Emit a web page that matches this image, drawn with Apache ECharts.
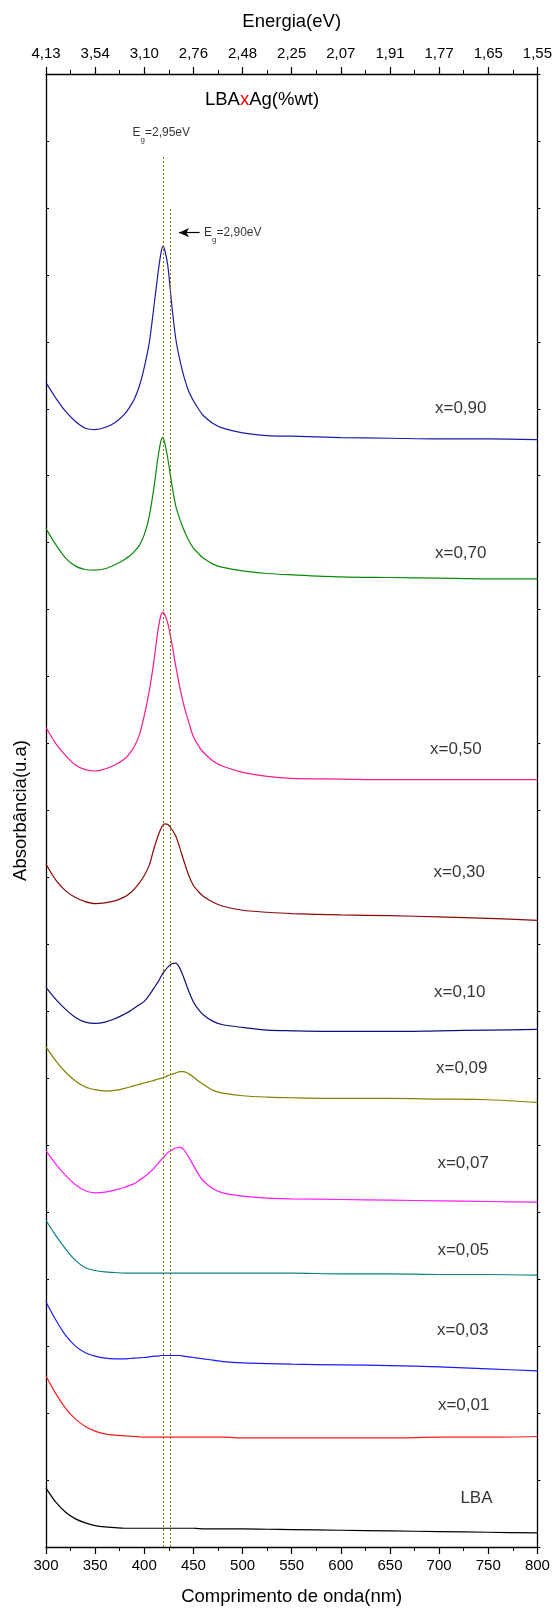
<!DOCTYPE html>
<html><head><meta charset="utf-8">
<script src="https://cdn.jsdelivr.net/npm/echarts@6/dist/echarts.min.js"></script>
<style>html,body{margin:0;padding:0;background:#fff}#c{width:555px;height:1611px}</style>
</head><body><div id="c"></div>
<script>
const wavelengths = [300,310,320,330,340,350,360,370,380,385,390,395,400,405,410,414,417,419,421,424,428,432,436,440,445,450,455,460,470,480,500,525,550,600,650,700,750,800];
const energyLabels = ['4,13','3,54','3,10','2,76','2,48','2,25','2,07','1,91','1,77','1,65','1,55'];
const names = ['x=0,90','x=0,70','x=0,50','x=0,30','x=0,10','x=0,09','x=0,07','x=0,05','x=0,03','x=0,01','LBA'];
const colors = ['#1c1ca4','#0a8a0a','#ff1a8c','#8a0a0a','#10107e','#828200','#ff1aff','#0a8282','#1a1aff','#ff1a1a','#000000'];
const abs090 = [17.39,17.16,16.96,16.81,16.71,16.69,16.72,16.79,16.92,17.02,17.15,17.34,17.62,17.98,18.55,19.03,19.33,19.43,19.36,19.13,18.55,18.05,17.74,17.50,17.27,17.12,17.00,16.90,16.78,16.71,16.64,16.60,16.59,16.57,16.56,16.55,16.55,16.54];
const abs070 = [15.21,14.97,14.77,14.65,14.60,14.59,14.61,14.67,14.75,14.80,14.87,14.96,15.12,15.39,15.84,16.28,16.52,16.57,16.48,16.25,15.87,15.55,15.36,15.20,15.04,14.92,14.84,14.77,14.68,14.63,14.58,14.54,14.52,14.49,14.48,14.47,14.46,14.46];
const abs050 = [12.24,12.00,11.82,11.68,11.61,11.59,11.62,11.68,11.77,11.85,11.96,12.13,12.42,12.78,13.25,13.70,13.92,13.96,13.92,13.79,13.50,13.16,12.85,12.59,12.33,12.10,11.97,11.87,11.74,11.66,11.57,11.51,11.48,11.47,11.46,11.46,11.46,11.46];
const abs030 = [10.20,9.96,9.80,9.70,9.64,9.61,9.62,9.65,9.71,9.76,9.83,9.92,10.03,10.18,10.44,10.62,10.73,10.78,10.80,10.79,10.72,10.62,10.45,10.26,10.04,9.88,9.79,9.72,9.63,9.57,9.51,9.48,9.46,9.44,9.43,9.41,9.39,9.36];
const abs010 = [8.36,8.18,8.03,7.91,7.84,7.82,7.84,7.89,7.96,8.00,8.05,8.10,8.15,8.24,8.35,8.44,8.52,8.57,8.61,8.66,8.71,8.72,8.65,8.51,8.31,8.14,8.03,7.95,7.85,7.80,7.76,7.72,7.71,7.70,7.70,7.71,7.72,7.73];
const abs009 = [7.47,7.26,7.09,6.96,6.87,6.83,6.81,6.82,6.85,6.87,6.89,6.91,6.93,6.95,6.97,6.99,7.00,7.01,7.02,7.04,7.06,7.08,7.10,7.10,7.07,7.02,6.96,6.91,6.82,6.78,6.74,6.72,6.71,6.70,6.70,6.69,6.68,6.64];
const abs007 = [5.92,5.72,5.55,5.41,5.32,5.29,5.30,5.33,5.37,5.40,5.43,5.48,5.53,5.59,5.66,5.73,5.78,5.81,5.84,5.89,5.93,5.96,5.97,5.94,5.83,5.70,5.57,5.47,5.35,5.29,5.24,5.21,5.20,5.19,5.18,5.17,5.16,5.15];
const abs005 = [4.88,4.65,4.45,4.28,4.17,4.13,4.11,4.10,4.09,4.09,4.09,4.09,4.09,4.09,4.09,4.09,4.09,4.09,4.09,4.09,4.09,4.09,4.09,4.09,4.09,4.09,4.09,4.09,4.09,4.09,4.09,4.09,4.09,4.08,4.08,4.07,4.07,4.06];
const abs003 = [3.66,3.39,3.16,3.00,2.90,2.85,2.82,2.81,2.81,2.815,2.82,2.825,2.83,2.84,2.85,2.85,2.86,2.86,2.86,2.86,2.86,2.86,2.86,2.85,2.84,2.83,2.82,2.81,2.79,2.77,2.75,2.74,2.73,2.72,2.71,2.69,2.66,2.63];
const abs001 = [2.55,2.29,2.07,1.91,1.80,1.73,1.69,1.67,1.66,1.655,1.65,1.645,1.64,1.64,1.64,1.64,1.64,1.64,1.64,1.64,1.64,1.64,1.64,1.64,1.64,1.64,1.64,1.64,1.64,1.64,1.63,1.63,1.63,1.63,1.63,1.64,1.64,1.65];
const absLBA = [0.88,0.67,0.52,0.42,0.36,0.32,0.30,0.29,0.28,0.28,0.28,0.28,0.28,0.28,0.28,0.28,0.28,0.28,0.28,0.28,0.28,0.28,0.28,0.28,0.28,0.28,0.275,0.27,0.27,0.27,0.27,0.265,0.26,0.25,0.24,0.23,0.22,0.21];
const allAbs = [abs090,abs070,abs050,abs030,abs010,abs009,abs007,abs005,abs003,abs001,absLBA];
// label anchors (wavelength, absorbance)
const labelWl = [722,722,717,720.5,721,723,724.5,724.5,724,725,738];
const labelAbs = [17.0,14.84,11.92,10.07,8.29,7.15,5.73,4.43,3.24,2.12,0.73];
// Eg reference lines
const egWl = [419,426];
const egTop = [20.78,20.0];
const egText = ['{e|E}{s|g}{e|=2,95eV}','{e|E}{s|g}{e|=2,90eV}'];
const egTextPos = [[417.3,21.12],[490,19.63]];
const arrowFrom = [456.3,19.63], arrowTo = [435.3,19.63];

const FF = '"Liberation Sans", Arial, sans-serif';
const chart = echarts.init(document.getElementById('c'), null, {renderer:'canvas'});
const axisCommon = {
  type:'value', min:300, max:800, interval:50,
  axisLine:{onZero:false, lineStyle:{color:'#000', width:1.3}},
  axisTick:{length:7, lineStyle:{color:'#000', width:1.2}},
  minorTick:{show:true, splitNumber:2, length:4, lineStyle:{color:'#000', width:1}},
  splitLine:{show:false}, minorSplitLine:{show:false},
  nameLocation:'middle', nameTextStyle:{fontSize:18.5, color:'#000', fontFamily:FF}
};
const yCommon = {
  type:'value', min:0, max:22, interval:1,
  axisLine:{show:true, onZero:false, lineStyle:{color:'#000', width:1.3}},
  axisTick:{show:true, inside:true, length:3, lineStyle:{color:'#000', width:1}},
  axisLabel:{show:false}, splitLine:{show:false}
};
const series = names.map((n,i)=>({
  name:n, type:'line', data: wavelengths.map((w,j)=>[w, allAbs[i][j]]),
  showSymbol:false, smooth:0.3,
  lineStyle:{color:colors[i], width:1.2}, itemStyle:{color:colors[i]}, z:3
}));
series[10].markLine = {
  silent:true, symbol:'none', animation:false, label:{show:false},
  lineStyle:{type:[2,2], color:'#7d7400', width:1},
  data: egWl.map((w,i)=>[{coord:[w,0]},{coord:[w,egTop[i]]}])
};
series.push({
  type:'scatter', data: names.map((n,i)=>[labelWl[i], labelAbs[i], n]),
  symbolSize:1, itemStyle:{color:'rgba(0,0,0,0)'}, silent:true,
  label:{show:true, position:'inside', formatter:p=>p.data[2], fontSize:17, color:'#000', fontFamily:FF}
});
series.push({
  type:'scatter', data: egText.map((t,i)=>[egTextPos[i][0], egTextPos[i][1], t]),
  symbolSize:1, itemStyle:{color:'rgba(0,0,0,0)'}, silent:true,
  label:{show:true, position:'inside', formatter:p=>p.data[2], color:'#000',
    rich:{e:{fontSize:12, fontFamily:FF, color:'#000', lineHeight:12, verticalAlign:'top'},
          s:{fontSize:8, fontFamily:FF, color:'#000', lineHeight:8, padding:[9,0,0,0], verticalAlign:'top'}}}
});
series.push({
  type:'line', data:[], markLine:{
    silent:true, animation:false, label:{show:false},
    lineStyle:{type:'solid', color:'#000', width:1.2},
    symbol:['none','arrow'], symbolSize:[7,10],
    data:[[{coord:arrowFrom},{coord:arrowTo}]]
  }
});
chart.setOption({
  animation:false,
  grid:{left:46, right:17, top:74, bottom:59},
  xAxis:[
    Object.assign({}, axisCommon, {position:'bottom', name:'Comprimento de onda(nm)', nameGap:40,
      axisLabel:{fontSize:15, color:'#000', fontFamily:FF, margin:11}}),
    Object.assign({}, axisCommon, {position:'top', name:'Energia(eV)', nameGap:43,
      axisLabel:{fontSize:15, color:'#000', fontFamily:FF, margin:13,
        formatter:v=>energyLabels[Math.round((v-300)/50)]}})
  ],
  yAxis:[
    Object.assign({}, yCommon, {position:'left', name:'Absorbância(u.a)', nameLocation:'middle', nameGap:16,
      nameTextStyle:{fontSize:18.5, color:'#000', fontFamily:FF}}),
    Object.assign({}, yCommon, {position:'right', axisTick:{show:true, inside:false, length:3, lineStyle:{color:'#000', width:1}}})
  ],
  graphic:[{type:'text', x:262, y:100, style:{
    text:'{a|LBA}{r|x}{a|Ag(%wt)}', align:'center', verticalAlign:'middle',
    rich:{a:{fontSize:18.5, fontFamily:FF, fill:'#000', color:'#000'}, r:{fontSize:18.5, fontFamily:FF, fill:'#ff0000', color:'#ff0000'}}
  }}],
  series:series
});
</script></body></html>
